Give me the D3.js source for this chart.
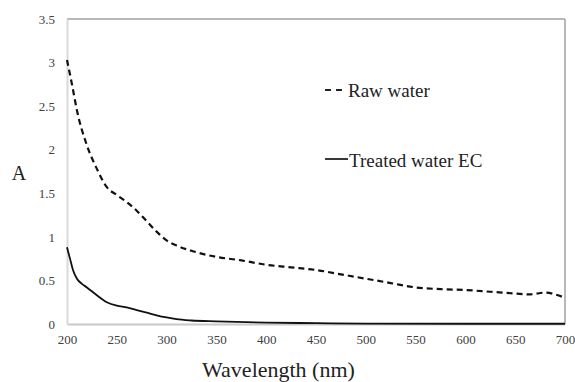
<!DOCTYPE html>
<html><head><meta charset="utf-8">
<script src="https://cdn.jsdelivr.net/npm/d3@7"></script>
<style>body{margin:0;background:#fff}svg{display:block}svg text{font-family:"Liberation Serif",Tinos,Times,serif !important}</style>
</head><body>
<svg id="c" width="575" height="382"></svg>
<script>
const wavelengths = [200,205,210,220,230,240,250,260,270,280,290,300,310,325,350,375,400,425,450,475,500,525,550,575,600,625,650,665,680,690,700];
const rawWater    = [3.03,2.75,2.45,2.05,1.78,1.57,1.48,1.40,1.30,1.18,1.06,0.96,0.90,0.84,0.77,0.73,0.68,0.65,0.62,0.57,0.52,0.47,0.42,0.40,0.39,0.37,0.35,0.34,0.36,0.34,0.30];
const treatedWl   = [200,203,206,210,215,220,230,240,250,260,270,280,290,300,310,325,350,400,450,500,600,700];
const treatedEC   = [0.88,0.75,0.62,0.52,0.46,0.42,0.33,0.25,0.21,0.19,0.16,0.13,0.10,0.075,0.055,0.04,0.03,0.015,0.01,0.005,0.003,0.003];
const xTicks = [200,250,300,350,400,450,500,550,600,650,700];
const yTicks = [0,0.5,1,1.5,2,2.5,3,3.5];
const legendLabels = ["Raw water","Treated water EC"];

const svg = d3.select("#c");
const L=67,R=565,T=19,B=324;
const x = d3.scaleLinear().domain([200,700]).range([L,R]);
const y = d3.scaleLinear().domain([0,3.5]).range([B,T]);

// plot border
svg.append("line").attr("x1",L).attr("x2",R).attr("y1",T).attr("y2",T).attr("stroke","#a0a0a0").attr("stroke-width",1.5);
svg.append("line").attr("x1",R).attr("x2",R).attr("y1",T).attr("y2",B).attr("stroke","#a0a0a0").attr("stroke-width",1.5);

// axes
const xAxis = svg.append("g").attr("transform",`translate(0,${B})`)
  .call(d3.axisBottom(x).tickValues(xTicks).tickSize(0).tickPadding(11).tickFormat(d3.format("d")));
const yAxis = svg.append("g").attr("transform",`translate(${L},0)`)
  .call(d3.axisLeft(y).tickValues(yTicks).tickSize(0).tickPadding(12).tickFormat(d=>String(d)));
yAxis.select(".domain").attr("stroke","#d9d9d9").attr("stroke-width",2);
xAxis.select(".domain").attr("stroke","#c8c8c8").attr("stroke-width",2);
[xAxis,yAxis].forEach(g=>g.selectAll("text").attr("font-size",13).attr("fill","#404040"));

// lines
const lineRaw = d3.line().x((d,i)=>x(wavelengths[i])).y(d=>y(d)).curve(d3.curveMonotoneX);
const lineTr = d3.line().x((d,i)=>x(treatedWl[i])).y(d=>y(d)).curve(d3.curveMonotoneX);
svg.append("path").attr("d",lineRaw(rawWater)).attr("fill","none").attr("stroke","#111").attr("stroke-width",2.2).attr("stroke-dasharray","6,4");
svg.append("path").attr("d",lineTr(treatedEC)).attr("fill","none").attr("stroke","#111").attr("stroke-width",1.8);

// legend
svg.append("line").attr("x1",325).attr("x2",343).attr("y1",90).attr("y2",90).attr("stroke","#222").attr("stroke-width",1.8).attr("stroke-dasharray","6,5");
svg.append("text").attr("x",348).attr("y",97).text(legendLabels[0]).attr("font-size",19).attr("fill","#222");
svg.append("line").attr("x1",325).attr("x2",348).attr("y1",159).attr("y2",159).attr("stroke","#222").attr("stroke-width",1.8);
svg.append("text").attr("x",349).attr("y",167).text(legendLabels[1]).attr("font-size",19).attr("fill","#222");

// axis titles
svg.append("text").attr("x",278.5).attr("y",377).attr("text-anchor","middle").text("Wavelength (nm)").attr("font-size",22).attr("fill","#222");
svg.append("text").attr("x",19).attr("y",180).attr("text-anchor","middle").text("A").attr("font-size",20).attr("fill","#222");
</script>
</body></html>
